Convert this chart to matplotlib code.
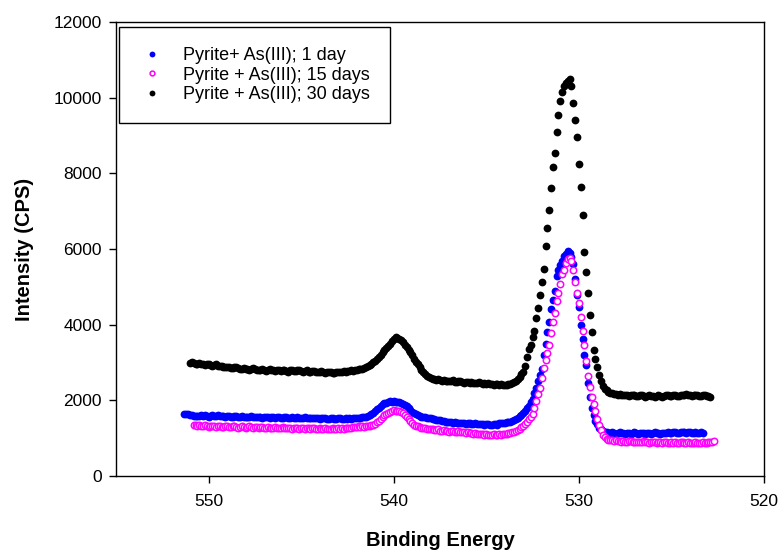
import numpy as np
import matplotlib
matplotlib.use("Agg")
import matplotlib.pyplot as plt

plt.rcParams['font.family'] = ['Liberation Sans', 'DejaVu Sans']

# O 1s region, 0.1 eV steps, high to low binding energy
step = 0.1

start_1day = 551.3
cps_1day = [
    1640, 1630, 1640, 1620, 1600, 1590, 1580, 1590, 1580, 1600,
    1590, 1600, 1580, 1570, 1590, 1600, 1590, 1580, 1600, 1590,
    1580, 1580, 1570, 1590, 1580, 1560, 1570, 1590, 1580, 1570,
    1560, 1580, 1570, 1550, 1560, 1570, 1580, 1560, 1550, 1570,
    1560, 1550, 1540, 1560, 1570, 1550, 1540, 1560, 1550, 1540,
    1550, 1560, 1540, 1530, 1550, 1560, 1540, 1530, 1550, 1540,
    1530, 1550, 1540, 1520, 1530, 1550, 1540, 1520, 1530, 1540,
    1520, 1530, 1540, 1510, 1520, 1530, 1520, 1500, 1510, 1530,
    1520, 1510, 1500, 1520, 1530, 1510, 1500, 1520, 1510, 1520,
    1510, 1520, 1530, 1520, 1540, 1530, 1550, 1560, 1570, 1580,
    1600, 1630, 1670, 1720, 1770, 1800, 1850, 1890, 1920, 1940,
    1960, 1970, 1960, 1970, 1960, 1950, 1960, 1940, 1910, 1880,
    1850, 1790, 1740, 1690, 1660, 1630, 1610, 1590, 1570, 1560,
    1550, 1540, 1530, 1520, 1510, 1500, 1490, 1480, 1470, 1460,
    1450, 1440, 1430, 1440, 1420, 1410, 1420, 1400, 1410, 1400,
    1390, 1400, 1380, 1390, 1400, 1380, 1370, 1390, 1380, 1370,
    1380, 1370, 1360, 1380, 1370, 1360, 1350, 1370, 1380, 1360,
    1390, 1400, 1400, 1410, 1420, 1430, 1440, 1460, 1480, 1510,
    1540, 1580, 1620, 1670, 1730, 1790, 1860, 1950, 2040, 2190,
    2330, 2500, 2680, 2830, 3200, 3480, 3800, 4080, 4420, 4650,
    4900, 5280, 5450, 5590, 5690, 5810, 5870, 5940, 5900, 5800,
    5600, 5200, 4780, 4470, 4000, 3620, 3200, 2930, 2450, 2100,
    1790, 1600, 1460, 1380, 1280, 1230, 1190, 1170, 1150, 1140,
    1130, 1150, 1140, 1120, 1130, 1150, 1140, 1130, 1120, 1140,
    1130, 1120, 1140, 1150, 1130, 1120, 1130, 1140, 1130, 1120,
    1130, 1140, 1120, 1130, 1150, 1140, 1130, 1120, 1140, 1130,
    1140, 1150, 1130, 1140, 1160, 1150, 1140, 1130, 1150, 1160,
    1150, 1140, 1160, 1150, 1140, 1130, 1150, 1140, 1130, 1150,
    1140,
]

start_15day = 550.8
cps_15day = [
    1350, 1340, 1320, 1350, 1330, 1310, 1340, 1330, 1300, 1320,
    1330, 1310, 1300, 1320, 1330, 1300, 1290, 1310, 1320, 1300,
    1290, 1310, 1320, 1300, 1280, 1300, 1310, 1290, 1280, 1300,
    1310, 1290, 1280, 1300, 1290, 1270, 1290, 1300, 1280, 1270,
    1290, 1280, 1260, 1280, 1290, 1270, 1260, 1280, 1290, 1270,
    1260, 1280, 1270, 1250, 1270, 1280, 1260, 1250, 1270, 1260,
    1250, 1270, 1260, 1240, 1260, 1270, 1250, 1240, 1260, 1250,
    1240, 1260, 1250, 1230, 1250, 1260, 1240, 1250, 1260, 1240,
    1260, 1250, 1270, 1260, 1280, 1270, 1290, 1300, 1290, 1310,
    1300, 1310, 1300, 1320, 1310, 1330, 1340, 1350, 1380, 1420,
    1460, 1500, 1550, 1600, 1640, 1670, 1700, 1720, 1740, 1730,
    1720, 1710, 1690, 1660, 1620, 1570, 1510, 1450, 1400, 1360,
    1330, 1310, 1290, 1280, 1270, 1260, 1250, 1240, 1250, 1230,
    1220, 1210, 1230, 1200, 1190, 1210, 1200, 1180, 1170, 1190,
    1180, 1170, 1160, 1180, 1170, 1150, 1160, 1140, 1150, 1130,
    1140, 1120, 1130, 1110, 1120, 1100, 1110, 1090, 1100, 1080,
    1090, 1080, 1100, 1090, 1080, 1100, 1090, 1110, 1100, 1120,
    1130, 1140, 1160, 1170, 1190, 1220, 1250, 1290, 1330, 1370,
    1430, 1500, 1570, 1640, 1790, 1990, 2170, 2330, 2580, 2860,
    3070, 3240, 3460, 3780, 4080, 4300, 4620, 4850, 5070, 5330,
    5450, 5620, 5730, 5760, 5680, 5450, 5140, 4830, 4560, 4210,
    3840, 3460, 3050, 2650, 2360, 2100, 1900, 1730, 1510, 1350,
    1220, 1090, 1020, 980, 960, 950, 940, 930, 940, 920,
    930, 910, 920, 900, 910, 930, 920, 900, 890, 910,
    900, 890, 910, 920, 900, 890, 880, 900, 910, 890,
    880, 900, 890, 870, 890, 900, 880, 870, 890, 880,
    890, 870, 880, 900, 890, 870, 880, 890, 880, 870,
    880, 890, 870, 860, 880, 890, 870, 880, 890, 910,
    890, 920,
]

start_30day = 551.0
cps_30day = [
    2990, 3000, 2980, 2970, 2960, 2980, 2970, 2950, 2940, 2960,
    2950, 2930, 2920, 2940, 2950, 2920, 2900, 2910, 2890, 2880,
    2870, 2890, 2860, 2850, 2870, 2880, 2850, 2830, 2840, 2860,
    2840, 2820, 2800, 2830, 2850, 2820, 2800, 2790, 2810, 2830,
    2800, 2780, 2790, 2820, 2810, 2790, 2770, 2790, 2800, 2780,
    2790, 2810, 2780, 2760, 2790, 2800, 2780, 2770, 2790, 2800,
    2780, 2760, 2770, 2790, 2760, 2750, 2770, 2780, 2760, 2740,
    2750, 2770, 2740, 2730, 2750, 2760, 2740, 2720, 2730, 2750,
    2740, 2760, 2750, 2770, 2760, 2780, 2770, 2790, 2780, 2800,
    2800, 2820, 2840, 2830, 2860, 2880, 2900, 2930, 2960, 3000,
    3050, 3100, 3150, 3210, 3270, 3320, 3380, 3440, 3500, 3560,
    3620, 3670, 3640, 3620, 3600, 3540, 3470, 3400, 3340, 3270,
    3200, 3100, 3010, 2950, 2870, 2810, 2750, 2700, 2650, 2610,
    2580, 2570, 2560, 2540, 2560, 2540, 2520, 2530, 2510, 2520,
    2500, 2510, 2530, 2490, 2480, 2500, 2510, 2480, 2470, 2490,
    2480, 2460, 2490, 2470, 2450, 2470, 2480, 2460, 2440, 2450,
    2430, 2450, 2420, 2440, 2410, 2430, 2420, 2400, 2420, 2410,
    2400, 2410, 2420, 2430, 2450, 2480, 2520, 2570, 2620, 2690,
    2760, 2910, 3150, 3350, 3460, 3680, 3830, 4170, 4430, 4780,
    5120, 5480, 6080, 6560, 7020, 7600, 8170, 8530, 9100, 9550,
    9900, 10160, 10310, 10380, 10450, 10490, 10310, 9870, 9400, 8970,
    8250, 7640, 6910, 5930, 5380, 4850, 4260, 3810, 3330, 3100,
    2890, 2670, 2520, 2390, 2310, 2260, 2230, 2200, 2190, 2170,
    2160, 2150, 2170, 2140, 2130, 2150, 2140, 2120, 2130, 2150,
    2140, 2120, 2110, 2130, 2140, 2120, 2100, 2110, 2130, 2120,
    2110, 2100, 2120, 2130, 2110, 2100, 2120, 2140, 2130, 2110,
    2120, 2140, 2130, 2110, 2120, 2150, 2140, 2130, 2160, 2150,
    2140, 2120, 2130, 2150, 2140, 2120, 2110, 2130, 2140, 2120,
    2110, 2100,
]

labels = ['Pyrite+ As(III); 1 day', 'Pyrite + As(III); 15 days',
          'Pyrite + As(III); 30 days']

x_ticks = [550, 540, 530, 520]
y_ticks = [0, 2000, 4000, 6000, 8000, 10000, 12000]


def energies(start, values):
    return start - step * np.arange(len(values))


fig = plt.figure(figsize=(7.81, 5.52), dpi=100)
ax = fig.add_axes([0.1485, 0.1377, 0.8297, 0.8224])

ax.plot(energies(start_1day, cps_1day), cps_1day, 'o', ls='none',
        color='#0000ff', ms=5.6, mew=0, label=labels[0])
ax.plot(energies(start_15day, cps_15day), cps_15day, 'o', ls='none',
        mfc='white', mec='#ff00ff', ms=4.6, mew=1.1, label=labels[1])
ax.plot(energies(start_30day, cps_30day), cps_30day, 'o', ls='none',
        color='black', ms=5.6, mew=0, label=labels[2])

ax.set_xlim(555, 520)
ax.set_ylim(0, 12000)
ax.set_xticks(x_ticks)
ax.set_yticks(y_ticks)
ax.tick_params(axis='x', direction='out', length=5, width=1, pad=8,
               labelsize=12.5, top=False)
ax.tick_params(axis='y', direction='out', length=5, width=1, pad=5,
               labelsize=12.5, right=False)
for s in ax.spines.values():
    s.set_linewidth(1.0)

ax.set_xlabel('Binding Energy', fontsize=14.5, fontweight='bold', labelpad=16)
ax.set_ylabel('Intensity (CPS)', fontsize=14.5, fontweight='bold', labelpad=14)

leg = ax.legend(loc='upper left', bbox_to_anchor=(0.0046, 0.989),
                borderaxespad=0, fontsize=13, frameon=True, fancybox=False,
                shadow=False, handlelength=1.5, handletextpad=0.95,
                borderpad=1.1, labelspacing=0.15, markerscale=0.75)
leg.get_frame().set_edgecolor('black')
leg.get_frame().set_linewidth(1.0)
leg.get_frame().set_alpha(1)

fig.savefig('out.png', dpi=100)
